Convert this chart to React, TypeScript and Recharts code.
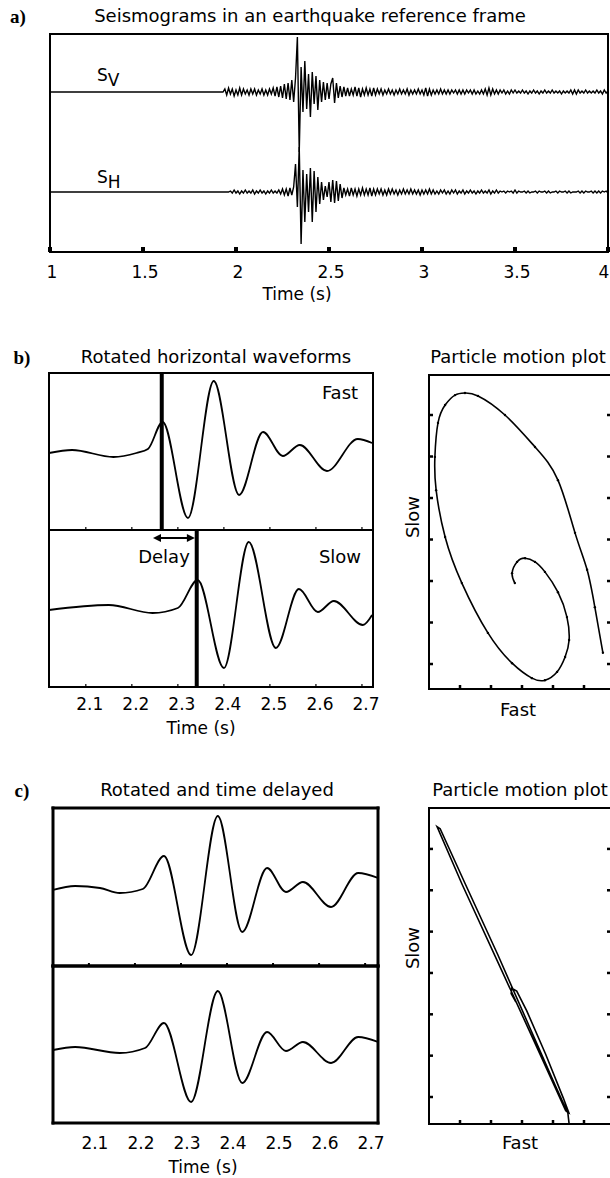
import React from 'react';
import { LineChart, Line, XAxis, YAxis, ReferenceLine } from 'recharts';

const FONT = '"DejaVu Sans", Verdana, sans-serif';
const SERIF = '"Liberation Serif", "Times New Roman", serif';

// ---------- a) SV / SH seismograms, 100 samples per second ----------
const SAMPLE_DT = 0.01;
const RECORD_START = 1.0;
const SV_START = 1.93;
const SH_START = 1.96;
const SV_LEVEL = 160;
const SH_LEVEL = 60;
const SV_AMP = [
  0, 3, -3, 4, -2, 3, -4, 2, -3, 4,
  -3, 3, -2, 2, -3, 3, -2, 3, -3, 2,
  -2, 3, -3, 2, -3, 3, -2, 4, -4, 5,
  -5, 6, -6, 8, -7, 9, -8, 12, -10, 14,
  55, -60, 25, -20, 31, -17, 18, -25, 20, -12,
  16, -18, 12, -10, 10, -8, 9, -7, 8, 14,
  -11, 9, -6, 6, -5, 5, -4, 4, -4, 3,
  -3, 5, -4, 4, -5, 3, -3, 4, -3, 3,
  -4, 4, -3, 3, -2, 3, -3, 2, -2, 3,
  -2, 2, -3, 2, -2, 3, -2, 2, -2, 3,
  -3, 2, -2, 2, -2, 3, -2, 2, -3, 4,
  -4, 3, -3, 2, -2, 2, -2, 3, -2, 2,
  -2, 2, -2, 2, -1, 2, -2, 2, -2, 2,
  -2, 2, -1, 2, -2, 2, -2, 1, -2, 2,
  -2, 3, -3, 4, -3, 3, -2, 2, -2, 2,
  -1, 2, -2, 1, -2, 2, -1, 2, -1, 1,
  -1, 2, -1, 1, -2, 1, -1, 2, -1, 1,
  -2, 1, -1, 2, -1, 1, -1, 2, -1, 1,
  -1, 1, -2, 1, -1, 1, -1, 2, -2, 2,
  -2, 2, -1, 1, -1, 2, -1, 1, -1, 1,
  -1, 2, -1, 1, -2, 2, -1, 1,
];
const SH_AMP = [
  0, 1, -1, 2, -1, 1, -2, 1, -1, 2,
  -1, 1, -1, 2, -2, 1, -1, 2, -1, 1,
  -2, 1, -1, 2, -1, 1, -1, 2, -2, 3,
  -3, 3, -4, 4, -3, 5, 28, -15, 45, -52,
  22, -30, 18, -20, 24, -30, 21, -20, 15, -12,
  10, -8, 6, -5, 10, -10, 12, -11, 11, -9,
  8, -6, 4, -3, 3, -4, 4, -3, 3, -4,
  3, -3, 4, -3, 3, -3, 4, -4, 3, -3,
  3, -2, 3, -3, 2, -3, 3, -2, 3, -2,
  2, -3, 2, -2, 3, -2, 2, -2, 3, -2,
  2, -2, 2, -3, 2, -2, 2, -2, 3, -2,
  2, -2, 1, -2, 2, -1, 2, -2, 1, -2,
  2, -1, 2, -2, 1, -1, 2, -2, 1, -1,
  2, -1, 1, -2, 1, -1, 2, -1, 1, -1,
  2, -2, 1, -1, 2, -1, 1, 0, 1, -1,
  1, 0, 1, -1, 2, -1, 1, 0, 0, 1,
  -1, 1, -1, 0, 0, 1, -1, 1, 0, 0,
  1, -1, 1, -1, 0, 0, 1, -1, 1, 0,
  0, 1, -1, 1, -1, 0, 0, 0, 1, -1,
  1, -1, 1, 0, 0, 1, -1, 1, -1, 1,
  -1, 1, 0, 1, -1,
];
const A_TICKS = [1, 1.5, 2, 2.5, 3, 3.5, 4];

// ---------- b) rotated horizontals ----------
const FAST_T = [2.02, 2.07, 2.16, 2.21, 2.235, 2.267, 2.322, 2.378, 2.433, 2.485, 2.528, 2.565, 2.624, 2.691, 2.722];
const FAST_AMP = [0, 3, -4, 0, 4, 31, -65, 72, -42, 21, -3, 8, -18, 14, 10];
const SLOW_T = [2.02, 2.15, 2.245, 2.3, 2.343, 2.4, 2.454, 2.513, 2.563, 2.604, 2.639, 2.702, 2.722];
const SLOW_AMP = [0, 5, -3, 2, 30, -58, 68, -38, 21, -2, 9, -15, -5];
const FAST_PICK = 2.265;
const SLOW_PICK = 2.341;
const DELAY_ARROW = [2.246, 2.337];
const DELAY_LEVEL = 72;
const ZOOM_TICKS = [2.1, 2.2, 2.3, 2.4, 2.5, 2.6, 2.7];

// ---------- c) after rotation and time shift ----------
const FAST_C_T = [2.022, 2.07, 2.124, 2.167, 2.217, 2.263, 2.322, 2.38, 2.433, 2.487, 2.528, 2.565, 2.626, 2.685, 2.728];
const FAST_C_AMP = [0, 4, 2, -3, 1, 34, -65, 74, -42, 22, -2, 8, -17, 17, 12];
const SLOW_C_T = [2.022, 2.07, 2.167, 2.222, 2.263, 2.322, 2.38, 2.433, 2.487, 2.528, 2.565, 2.626, 2.685, 2.728];
const SLOW_C_AMP = [0, 3, -3, 2, 27, -52, 59, -33, 18, -1, 8, -13, 13, 8];

// ---------- particle motion (fast vs slow) ----------
const PM_B_FAST = [2.77, 2.68, 2.84, 3.1, 3.42, 3.74, 4.16, 4.45, 4.52, 4.39, 4.13, 3.74, 3.32, 2.68, 1.9, 1.06, 0.52, 0.23, 0.19, 0.29, 0.52, 0.84, 1.16, 1.58, 2.45, 3.42, 4.16, 4.71, 5.1, 5.35, 5.61];
const PM_B_SLOW = [2.95, 3.19, 3.46, 3.55, 3.46, 3.22, 2.73, 2.13, 1.58, 1.17, 0.81, 0.61, 0.66, 1.02, 1.75, 2.95, 4.06, 5.19, 5.99, 6.81, 7.24, 7.48, 7.53, 7.46, 7.0, 6.23, 5.43, 4.16, 3.27, 2.37, 1.27];
const PM_C_FAST = [2.8, 2.65, 2.67, 2.83, 3.15, 3.76, 4.33, 4.51, 4.41, 3.61, 2.34, 1.07, 0.26, 0.36, 1.16, 2.22, 3.24, 4.06, 4.48, 4.52];
const PM_C_SLOW = [3.3, 3.5, 3.63, 3.56, 3.09, 2.04, 0.98, 0.62, 0.67, 1.99, 4.07, 6.14, 7.54, 7.49, 6.17, 4.44, 2.7, 1.3, 0.61, 0.35];
const PM_X_TICKS = [1, 2, 3, 4, 5];
const PM_Y_TICKS = [1, 2, 3, 4, 5, 6, 7];

const svData = [{ t: RECORD_START, v: SV_LEVEL }, ...SV_AMP.map((a, i) => ({ t: SV_START + i * SAMPLE_DT, v: SV_LEVEL + a }))];
const shData = [{ t: RECORD_START, v: SH_LEVEL }, ...SH_AMP.map((a, i) => ({ t: SH_START + i * SAMPLE_DT, v: SH_LEVEL + a }))];
const pairs = (t: number[], a: number[]) => t.map((x, i) => ({ t: x, v: a[i] }));
const orbit = (f: number[], s: number[]) => f.map((x, i) => ({ x, y: s[i] }));

type Side = 'top' | 'bottom' | 'left' | 'right';
type TickLabel = { dx: number; dy: number; maxX?: number };

// inward tick marks, optionally with a label below the axis
const inTick = (side: Side, len: number, w: number, label?: TickLabel) => (props: any) => {
  const { x, y, payload } = props;
  let x2 = x;
  let y2 = y;
  if (side === 'bottom') y2 = y - len;
  if (side === 'top') y2 = y + len;
  if (side === 'left') x2 = x + len;
  if (side === 'right') x2 = x - len;
  const tx = label ? Math.min(x + label.dx, label.maxX ?? Infinity) : x;
  return (
    <g>
      {len > 0 && <line x1={x} y1={y} x2={x2} y2={y2} stroke="#000" strokeWidth={w} />}
      {label && (
        <text x={tx} y={y + label.dy} textAnchor="middle" dominantBaseline="central" fontFamily={FONT} fontSize={17} fill="#000">
          {payload.value}
        </text>
      )}
    </g>
  );
};

type BoxProps = {
  pos: [number, number];
  size: [number, number];
  // plot-area insets; each axis takes 1px of it
  margin: { top: number; right: number; bottom: number; left: number };
  xKey: string;
  xDomain: [number, number];
  yDomain: [number, number];
  frameW: number;
  tick: [number, number];
  topTicks?: number[];
  bottomTicks?: number[];
  bottomMarks?: boolean;
  sideTicks?: number[];
  label?: TickLabel;
  children: React.ReactNode;
};

function Box({ pos, size, margin, xKey, xDomain, yDomain, frameW, tick, topTicks, bottomTicks, bottomMarks = true, sideTicks, label, children }: BoxProps) {
  const frame = { stroke: '#000', strokeWidth: frameW, strokeLinecap: 'square' as const };
  const [len, w] = tick;
  const m = { top: margin.top - 1, right: margin.right - 1, bottom: margin.bottom - 1, left: margin.left - 1 };
  return (
    <div style={{ position: 'absolute', left: pos[0], top: pos[1] }}>
      <LineChart width={size[0]} height={size[1]} margin={m}>
        <XAxis
          dataKey={xKey}
          type="number"
          domain={xDomain}
          allowDataOverflow
          height={1}
          tickSize={0}
          tickMargin={0}
          tickLine={false}
          interval={0}
          ticks={bottomTicks}
          tick={bottomTicks ? inTick('bottom', bottomMarks ? len : 0, w, label) : false}
          axisLine={frame}
        />
        <XAxis
          xAxisId="top"
          orientation="top"
          type="number"
          domain={xDomain}
          allowDataOverflow
          height={1}
          tickSize={0}
          tickMargin={0}
          tickLine={false}
          interval={0}
          ticks={topTicks}
          tick={topTicks ? inTick('top', len, w) : false}
          axisLine={frame}
        />
        <YAxis
          type="number"
          domain={yDomain}
          allowDataOverflow
          width={1}
          tickSize={0}
          tickMargin={0}
          tickLine={false}
          interval={0}
          ticks={sideTicks}
          tick={sideTicks ? inTick('left', len, w) : false}
          axisLine={frame}
        />
        <YAxis
          yAxisId="right"
          orientation="right"
          type="number"
          domain={yDomain}
          allowDataOverflow
          width={1}
          tickSize={0}
          tickMargin={0}
          tickLine={false}
          interval={0}
          ticks={sideTicks}
          tick={sideTicks ? inTick('right', len, w) : false}
          axisLine={frame}
        />
        {children}
      </LineChart>
    </div>
  );
}

const DelayArrow = (p: any) => {
  const { x1, y1, x2, y2 } = p;
  const head = 8;
  const half = 4;
  return (
    <g>
      <line x1={x1 + head - 1} y1={y1} x2={x2 - head + 1} y2={y2} stroke="#000" strokeWidth={2} />
      <polygon points={`${x1},${y1} ${x1 + head},${y1 - half} ${x1 + head},${y1 + half}`} fill="#000" />
      <polygon points={`${x2},${y2} ${x2 - head},${y2 - half} ${x2 - head},${y2 + half}`} fill="#000" />
    </g>
  );
};

function Txt({ x, y, children, rotate, size = 18, bold, serif }: { x: number; y: number; children: React.ReactNode; rotate?: number; size?: number; bold?: boolean; serif?: boolean }) {
  return (
    <div
      style={{
        position: 'absolute',
        left: x,
        top: y,
        transform: `translate(-50%, -50%)${rotate ? ` rotate(${rotate}deg)` : ''}`,
        whiteSpace: 'nowrap',
        fontFamily: serif ? SERIF : FONT,
        fontWeight: bold ? 700 : 400,
        fontSize: size,
        lineHeight: 1,
        color: '#000',
      }}
    >
      {children}
    </div>
  );
}

const Sub = ({ x, y, main, sub }: { x: number; y: number; main: string; sub: string }) => (
  <div style={{ position: 'absolute', left: x, top: y, fontFamily: FONT, fontSize: 17, lineHeight: 1 }}>
    {main}
    <span style={{ position: 'relative', top: 5 }}>{sub}</span>
  </div>
);

const WAVE = { stroke: '#000', strokeWidth: 1.8, dot: false as const, isAnimationActive: false };

export default function App() {
  return (
    <div style={{ position: 'absolute', left: 0, top: 0, width: 610, height: 1178, overflow: 'hidden', background: '#fff' }}>
      {/* a) full record */}
      <Box
        pos={[0, 0]}
        size={[612, 310]}
        margin={{ top: 34, right: 4, bottom: 58, left: 50 }}
        xKey="t"
        xDomain={[1, 4]}
        yDomain={[0, 218]}
        frameW={2}
        tick={[5, 4]}
        topTicks={A_TICKS}
        bottomTicks={A_TICKS}
        label={{ dx: 2, dy: 20, maxX: 604 }}
      >
        <Line data={svData} dataKey="v" type="linear" stroke="#000" strokeWidth={1.4} dot={false} isAnimationActive={false} />
        <Line data={shData} dataKey="v" type="linear" stroke="#000" strokeWidth={1.4} dot={false} isAnimationActive={false} />
      </Box>

      {/* b) rotated, fast on top */}
      <Box
        pos={[0, 353]}
        size={[380, 190]}
        margin={{ top: 20, right: 7, bottom: 13, left: 49 }}
        xKey="t"
        xDomain={[2.02, 2.724]}
        yDomain={[-77, 80]}
        frameW={2}
        tick={[3, 1.2]}
        topTicks={ZOOM_TICKS}
        bottomTicks={ZOOM_TICKS}
      >
        <Line data={pairs(FAST_T, FAST_AMP)} dataKey="v" type="monotone" {...WAVE} />
        <ReferenceLine x={FAST_PICK} stroke="#000" strokeWidth={4} />
      </Box>
      <Box
        pos={[0, 520]}
        size={[380, 200]}
        margin={{ top: 10, right: 7, bottom: 33, left: 49 }}
        xKey="t"
        xDomain={[2.02, 2.724]}
        yDomain={[-77, 80]}
        frameW={2}
        tick={[3, 1.2]}
        topTicks={ZOOM_TICKS}
        bottomTicks={ZOOM_TICKS}
        label={{ dx: 4, dy: 17 }}
      >
        <Line data={pairs(SLOW_T, SLOW_AMP)} dataKey="v" type="monotone" {...WAVE} />
        <ReferenceLine x={SLOW_PICK} stroke="#000" strokeWidth={4} />
        <ReferenceLine
          segment={[
            { x: DELAY_ARROW[0], y: DELAY_LEVEL },
            { x: DELAY_ARROW[1], y: DELAY_LEVEL },
          ]}
          shape={DelayArrow}
        />
      </Box>

      {/* b) particle motion */}
      <Box
        pos={[400, 355]}
        size={[215, 345]}
        margin={{ top: 20, right: 4, bottom: 11, left: 29 }}
        xKey="x"
        xDomain={[0, 5.871]}
        yDomain={[0.398, 7.964]}
        frameW={2}
        tick={[4, 2.5]}
        topTicks={PM_X_TICKS}
        bottomTicks={PM_X_TICKS}
        sideTicks={PM_Y_TICKS}
      >
        <Line
          data={orbit(PM_B_FAST, PM_B_SLOW)}
          dataKey="y"
          type="natural"
          stroke="#000"
          strokeWidth={1.6}
          dot={{ r: 1.2, fill: '#000', stroke: 'none' }}
          isAnimationActive={false}
        />
      </Box>

      {/* c) rotated and shifted */}
      <Box
        pos={[0, 790]}
        size={[385, 190]}
        margin={{ top: 18, right: 7, bottom: 14, left: 53 }}
        xKey="t"
        xDomain={[2.022, 2.728]}
        yDomain={[-76, 82]}
        frameW={3}
        tick={[3, 2]}
        topTicks={ZOOM_TICKS}
        bottomTicks={ZOOM_TICKS}
      >
        <Line data={pairs(FAST_C_T, FAST_C_AMP)} dataKey="v" type="monotone" {...WAVE} />
      </Box>
      <Box
        pos={[0, 956]}
        size={[385, 200]}
        margin={{ top: 10, right: 7, bottom: 33, left: 53 }}
        xKey="t"
        xDomain={[2.022, 2.728]}
        yDomain={[-73, 84]}
        frameW={3}
        tick={[3, 2]}
        topTicks={ZOOM_TICKS}
        bottomTicks={ZOOM_TICKS}
        bottomMarks={false}
        label={{ dx: 6, dy: 20 }}
      >
        <Line data={pairs(SLOW_C_T, SLOW_C_AMP)} dataKey="v" type="monotone" {...WAVE} />
      </Box>

      {/* c) particle motion */}
      <Box
        pos={[400, 788]}
        size={[215, 346]}
        margin={{ top: 20, right: 4, bottom: 10, left: 29 }}
        xKey="x"
        xDomain={[0, 5.871]}
        yDomain={[0.347, 7.99]}
        frameW={2}
        tick={[4, 2.5]}
        topTicks={PM_X_TICKS}
        bottomTicks={PM_X_TICKS}
        sideTicks={PM_Y_TICKS}
      >
        <Line
          data={orbit(PM_C_FAST, PM_C_SLOW)}
          dataKey="y"
          type="linear"
          stroke="#000"
          strokeWidth={1.6}
          dot={false}
          isAnimationActive={false}
        />
      </Box>

      {/* panel letters, titles and annotations */}
      <Txt x={18} y={16} size={19} bold serif>a)</Txt>
      <Txt x={310} y={16}>Seismograms in an earthquake reference frame</Txt>
      <Sub x={97} y={67} main="S" sub="V" />
      <Sub x={97} y={169} main="S" sub="H" />
      <Txt x={297} y={294} size={17}>Time (s)</Txt>

      <Txt x={22} y={357} size={19} bold serif>b)</Txt>
      <Txt x={216} y={357}>Rotated horizontal waveforms</Txt>
      <Txt x={340} y={393}>Fast</Txt>
      <Txt x={340} y={557}>Slow</Txt>
      <Txt x={164} y={557}>Delay</Txt>
      <Txt x={201} y={728} size={17}>Time (s)</Txt>
      <Txt x={518} y={357}>Particle motion plot</Txt>
      <Txt x={413} y={517} rotate={-90}>Slow</Txt>
      <Txt x={518} y={710}>Fast</Txt>

      <Txt x={22} y={790} size={19} bold serif>c)</Txt>
      <Txt x={217} y={790}>Rotated and time delayed</Txt>
      <Txt x={203} y={1167} size={17}>Time (s)</Txt>
      <Txt x={520} y={790}>Particle motion plot</Txt>
      <Txt x={413} y={948} rotate={-90}>Slow</Txt>
      <Txt x={520} y={1143}>Fast</Txt>
    </div>
  );
}
